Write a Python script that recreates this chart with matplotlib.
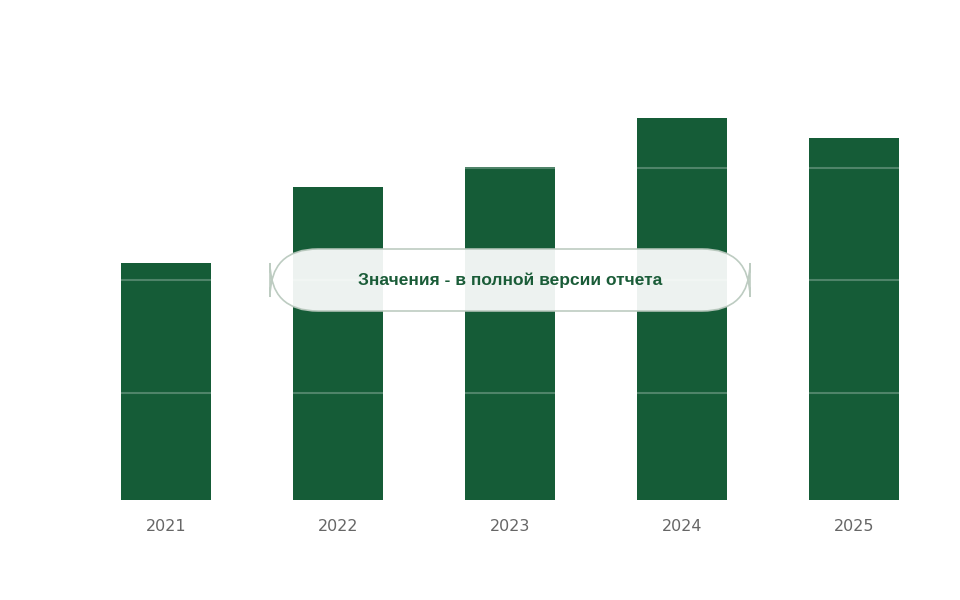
import numpy as np
import matplotlib
matplotlib.use("Agg")
import matplotlib.pyplot as plt
from matplotlib.patches import FancyBboxPatch

years = ["2021", "2022", "2023", "2024", "2025"]
values = [237, 313, 333, 382, 362]

def blur(img, dpi):
    r = 6
    k = np.exp(-np.linspace(-2, 2, 2 * r + 1) ** 2)
    k /= k.sum()
    out = img.copy()
    for ax in (0, 1):
        pad = [(0, 0)] * 3
        pad[ax] = (r, r)
        p = np.pad(out, pad, mode="edge")
        acc = np.zeros_like(out)
        n = out.shape[ax]
        for i, w in enumerate(k):
            sl = [slice(None)] * 3
            sl[ax] = slice(i, i + n)
            acc += w * p[tuple(sl)]
        out = acc
    return out, 0, 0

fig = plt.figure(figsize=(9.6, 6), dpi=100)
ax = fig.add_axes([80 / 960, 100 / 600, 860 / 960, 460 / 600])
x = np.arange(len(years))
bars = ax.bar(x, values, width=0.52, color="#155c37")
for b in bars:
    b.set_agg_filter(blur)
for y in [107, 220, 332]:
    ax.axhline(y, color="white", alpha=0.25, lw=1.5, zorder=3)
ax.set_xlim(-0.5, 4.5)
ax.set_ylim(0, 460)
ax.set_xticks(x)
ax.set_xticklabels(years, fontsize=11.5, color="#666666")
ax.tick_params(length=0, pad=14)
ax.set_yticks([])
for s in ax.spines.values():
    s.set_visible(False)

box = FancyBboxPatch((270 / 960, 289 / 600), 480 / 960, 62 / 600,
                     boxstyle="round,pad=0,rounding_size=0.05", transform=fig.transFigure,
                     facecolor="white", alpha=0.93, edgecolor="#b8c8bd", lw=1.2,
                     mutation_aspect=960 / 600)
fig.patches.append(box)
fig.text(510 / 960, 320 / 600, "Значения - в полной версии отчета", ha="center", va="center",
         fontsize=12.5, fontweight="bold", color="#1a5c38", family="Liberation Sans")
fig.savefig("out.png", dpi=100)
